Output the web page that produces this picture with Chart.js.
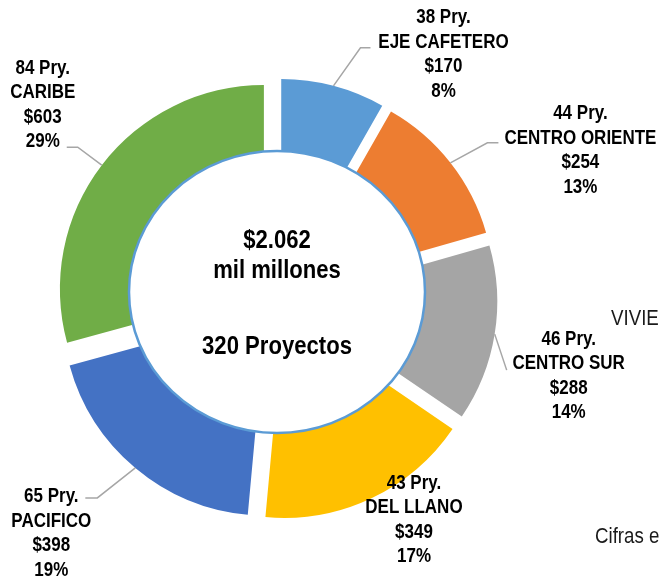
<!DOCTYPE html>
<html>
<head>
<meta charset="utf-8">
<script src="https://cdn.jsdelivr.net/npm/chart.js@4.4.0/dist/chart.umd.min.js"></script>
<style>
  body { margin: 0; background: #fff; }
  #wrap { position: relative; width: 659px; height: 578px; overflow: hidden; }
</style>
</head>
<body>
<div id="wrap"><canvas id="regiones" width="659" height="578"></canvas></div>
<script>
const regiones = ['EJE CAFETERO', 'CENTRO ORIENTE', 'CENTRO SUR', 'DEL LLANO', 'PACIFICO', 'CARIBE'];
const montos = [170, 254, 288, 349, 398, 603];      // miles de millones
const proyectos = [38, 44, 46, 43, 65, 84];
const porcentajes = [8, 13, 14, 17, 19, 29];

const colores = ['#5B9BD5', '#ED7D31', '#A5A5A5', '#FFC000', '#4472C4', '#70AD47'];

// guia de cada etiqueta, medida desde el borde exterior del sector
const guias = [
  { codo: [27, -38], fin: 10, texto: [110, -68] },
  { codo: [37, -20], fin: 11, texto: [130, -49] },
  { codo: [12, 36], fin: 0, texto: [74, 5] },
  { codo: null, fin: 0, texto: [43, -15] },
  { codo: [-38, 30], fin: -12, texto: [-84, 29] },
  { codo: [-24, -18], fin: -11, texto: [-59, -97] }
];

const FUENTE = "'Liberation Sans', Arial, sans-serif";
const ANGOSTA = 0.85;      // la letra angosta se simula comprimiendo en x
const SEPARACION = 16.5;
const INTERLINEA = 24.5;

function miles(n) {
  return String(n).replace(/\B(?=(\d{3})+(?!\d))/g, '.');
}

function escribir(ctx, t, x, y) {
  ctx.save();
  ctx.translate(x, y);
  ctx.scale(ANGOSTA, 1);
  ctx.fillText(t, 0, 0);
  ctx.restore();
}

// separa los sectores hacia afuera
const separar = {
  id: 'separar',
  afterDatasetUpdate(chart, args) {
    args.meta.data.forEach(function(arc) {
      const medio = (arc.startAngle + arc.endAngle) / 2;
      arc.x += Math.cos(medio) * SEPARACION;
      arc.y += Math.sin(medio) * SEPARACION;
    });
  }
};

const textos = {
  id: 'textos',
  afterDatasetsDraw(chart) {
    const ctx = chart.ctx;
    const area = chart.chartArea;
    const cx = (area.left + area.right) / 2;
    const cy = (area.top + area.bottom) / 2;

    ctx.save();
    // circulo central
    ctx.beginPath();
    ctx.ellipse(cx, cy - 7, 148, 141, 0, 0, Math.PI * 2);
    ctx.fillStyle = '#fff';
    ctx.fill();
    ctx.lineWidth = 2.5;
    ctx.strokeStyle = '#5B9BD5';
    ctx.stroke();

    const total = montos.reduce((a, b) => a + b, 0);
    const totalProy = proyectos.reduce((a, b) => a + b, 0);
    ctx.fillStyle = '#000';
    ctx.textAlign = 'center';
    ctx.textBaseline = 'middle';
    ctx.font = 'bold 26px ' + FUENTE;
    escribir(ctx, '$' + miles(total), cx, cy - 58);
    escribir(ctx, 'mil millones', cx, cy - 28);
    escribir(ctx, totalProy + ' Proyectos', cx, cy + 48);

    // etiquetas de cada region
    const meta = chart.getDatasetMeta(0);
    meta.data.forEach(function(arc, i) {
      const medio = (arc.startAngle + arc.endAngle) / 2;
      const x0 = arc.x + Math.cos(medio) * arc.outerRadius;
      const y0 = arc.y + Math.sin(medio) * arc.outerRadius;
      const g = guias[i];
      if (g.codo) {
        ctx.beginPath();
        ctx.moveTo(x0, y0);
        ctx.lineTo(x0 + g.codo[0], y0 + g.codo[1]);
        ctx.lineTo(x0 + g.codo[0] + g.fin, y0 + g.codo[1]);
        ctx.lineWidth = 1.5;
        ctx.strokeStyle = '#A6A6A6';
        ctx.stroke();
      }
      const lineas = [proyectos[i] + ' Pry.', regiones[i], '$' + montos[i], porcentajes[i] + '%'];
      ctx.font = 'bold 20px ' + FUENTE;
      ctx.fillStyle = '#000';
      lineas.forEach(function(t, k) {
        escribir(ctx, t, x0 + g.texto[0], y0 + g.texto[1] + k * INTERLINEA);
      });
    });
    ctx.restore();
  },
  afterDraw(chart) {
    const ctx = chart.ctx;
    ctx.save();
    ctx.fillStyle = '#1a1a1a';
    ctx.textAlign = 'left';
    ctx.textBaseline = 'middle';
    ctx.font = '22px ' + FUENTE;
    escribir(ctx, 'VIVIENDA', 611, 319);
    escribir(ctx, 'Cifras en', 595, 537);
    ctx.restore();
  }
};

new Chart(document.getElementById('regiones'), {
  type: 'doughnut',
  data: {
    labels: regiones,
    datasets: [{
      data: montos,
      backgroundColor: colores,
      borderWidth: 0
    }]
  },
  options: {
    responsive: false,
    animation: false,
    events: [],
    cutout: '54%',
    layout: { padding: { left: 73, top: 95, right: 178, bottom: 75 } },
    plugins: {
      legend: { display: false },
      tooltip: { enabled: false }
    }
  },
  plugins: [separar, textos]
});
</script>
</body>
</html>
